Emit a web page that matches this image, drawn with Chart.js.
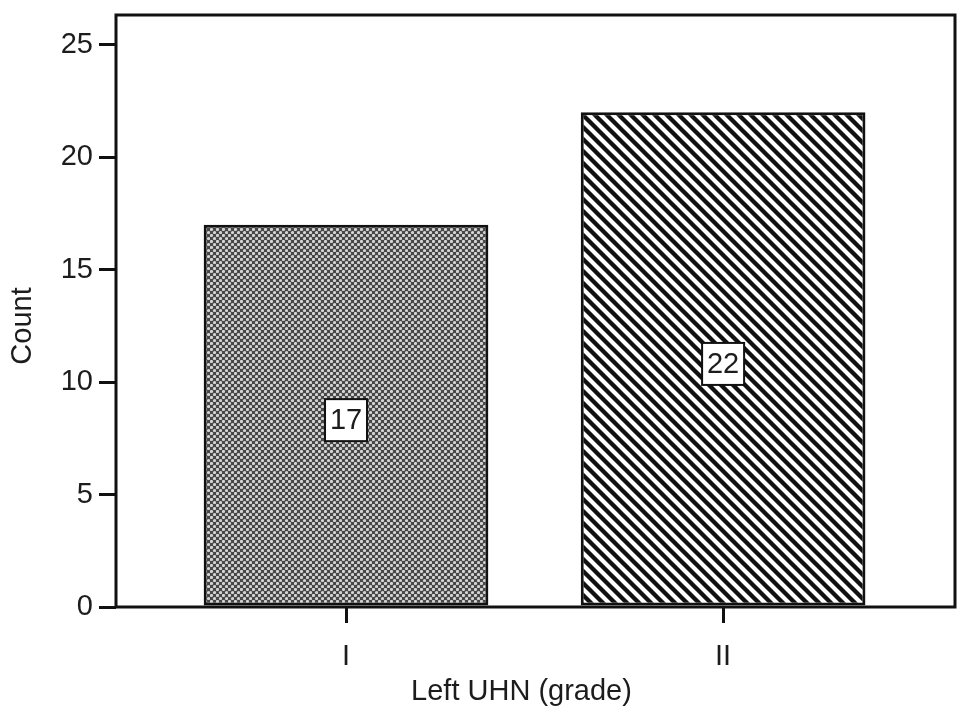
<!DOCTYPE html>
<html>
<head>
<meta charset="utf-8">
<script src="https://cdn.jsdelivr.net/npm/chart.js@4/dist/chart.umd.min.js"></script>
<style>
  html, body { margin: 0; padding: 0; background: #fff; }
  #wrap { width: 969px; height: 718px; }
</style>
</head>
<body>
<div id="wrap"><canvas id="uhnChart" width="969" height="718"></canvas></div>
<script>
// data
const categories = ['I', 'II'];
const categoryPos = [1, 2];
const counts = [17, 22];
const yTickValues = [0, 5, 10, 15, 20, 25];
const xTitle = 'Left UHN (grade)';
const yTitle = 'Count';

const FONT = '"Liberation Sans", Arial, Helvetica, sans-serif';
const INK = '#1c1c1c';
const FS = 29;

// fill patterns
function dotPattern() {
    const c = document.createElement('canvas');
    c.width = 6; c.height = 6;
    const g = c.getContext('2d');
    g.fillStyle = '#474747';
    g.fillRect(0, 0, 6, 6);
    g.fillStyle = '#d4d4d4';
    [[1.5, 1.5], [4.5, 4.5]].forEach(p => {
        g.beginPath();
        g.arc(p[0], p[1], 1.6, 0, Math.PI * 2);
        g.fill();
    });
    return g.createPattern(c, 'repeat');
}

function stripePattern() {
    const p = 12;
    const c = document.createElement('canvas');
    c.width = p; c.height = p;
    const g = c.getContext('2d');
    g.fillStyle = '#fff';
    g.fillRect(0, 0, p, p);
    g.strokeStyle = '#111';
    g.lineWidth = 4.3;
    g.lineCap = 'square';
    g.beginPath();
    g.moveTo(-2, -2); g.lineTo(p + 2, p + 2);
    g.moveTo(-2, p - 2); g.lineTo(2, p + 2);
    g.moveTo(p - 2, -2); g.lineTo(p + 2, 2);
    g.stroke();
    return g.createPattern(c, 'repeat');
}

// frame round the plot + axis titles (SPSS puts them a bit off-centre)
const framePlugin = {
    id: 'frame',
    afterDraw(chart) {
        const { ctx, chartArea: a } = chart;
        ctx.save();
        ctx.strokeStyle = '#111';
        ctx.lineWidth = 3;
        ctx.strokeRect(a.left, a.top, a.right - a.left, a.bottom - a.top);

        ctx.fillStyle = INK;
        ctx.font = FS + 'px ' + FONT;
        ctx.textAlign = 'center';
        ctx.textBaseline = 'middle';
        ctx.fillText(xTitle, (a.left + a.right) / 2 - 14, chart.height - 26);
        ctx.translate(23, (a.top + a.bottom) / 2 + 15);
        ctx.rotate(-Math.PI / 2);
        ctx.fillText(yTitle, 0, 0);
        ctx.restore();
    }
};

const valueBoxPlugin = {
    id: 'valueBox',
    afterDatasetsDraw(chart) {
        const { ctx } = chart;
        const meta = chart.getDatasetMeta(0);
        ctx.save();
        ctx.font = FS + 'px ' + FONT;
        ctx.textAlign = 'center';
        ctx.textBaseline = 'middle';
        meta.data.forEach((bar, i) => {
            const cx = bar.x;
            const cy = (bar.y + bar.base) / 2 + 5;
            const w = 42, h = 42;
            ctx.fillStyle = '#fff';
            ctx.fillRect(cx - w / 2, cy - h / 2, w, h);
            ctx.strokeStyle = '#111';
            ctx.lineWidth = 2;
            ctx.strokeRect(cx - w / 2, cy - h / 2, w, h);
            ctx.fillStyle = INK;
            ctx.fillText(String(counts[i]), cx, cy + 1);
        });
        ctx.restore();
    }
};

const ctx = document.getElementById('uhnChart').getContext('2d');
new Chart(ctx, {
    type: 'bar',
    data: {
        datasets: [{
            data: categoryPos.map((x, i) => ({ x: x, y: counts[i] })),
            backgroundColor: [dotPattern(), stripePattern()],
            borderColor: '#111',
            borderWidth: 3,
            borderSkipped: false,
            barPercentage: 0.755,
            categoryPercentage: 1
        }]
    },
    options: {
        responsive: false,
        animation: false,
        layout: { padding: { top: 15, right: 14, left: 0, bottom: 0 } },
        plugins: {
            legend: { display: false },
            tooltip: { enabled: false }
        },
        scales: {
            x: {
                type: 'linear',
                offset: false,
                min: 0.39,
                max: 2.615,
                afterBuildTicks: s => { s.ticks = categoryPos.map(v => ({ value: v })); },
                afterFit: s => { s.height = 111; s.paddingLeft = 0; s.paddingRight = 0; },
                border: { display: false },
                grid: {
                    offset: false,
                    drawOnChartArea: false,
                    drawTicks: true,
                    tickLength: 16,
                    lineWidth: 3,
                    color: '#111'
                },
                ticks: {
                    color: INK,
                    font: { family: FONT, size: FS },
                    padding: 17,
                    maxRotation: 0,
                    callback: v => categories[categoryPos.indexOf(v)]
                },
                title: { display: false }
            },
            y: {
                min: 0,
                max: 26.33,
                afterBuildTicks: s => { s.ticks = yTickValues.map(v => ({ value: v })); },
                afterFit: s => { s.width = 116; s.paddingTop = 0; s.paddingBottom = 0; },
                border: { display: false },
                grid: {
                    drawOnChartArea: false,
                    drawTicks: true,
                    tickLength: 17,
                    lineWidth: 3,
                    color: '#111'
                },
                ticks: {
                    color: INK,
                    font: { family: FONT, size: FS },
                    padding: 6
                },
                title: { display: false }
            }
        }
    },
    plugins: [framePlugin, valueBoxPlugin]
});
</script>
</body>
</html>
